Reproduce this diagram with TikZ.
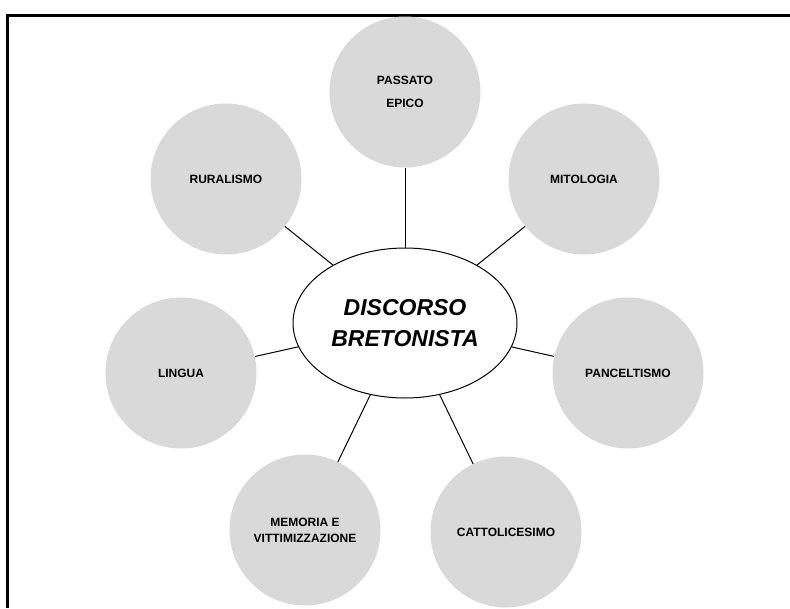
\documentclass[tikz,border=0pt]{standalone}
\usepackage{fontspec}
\setmainfont{Liberation Sans}
\usepackage{tikz}
\usetikzlibrary{shapes.geometric}
\colorlet{grigio}{black!15}

\begin{document}
\begin{tikzpicture}[x=1pt,y=-1pt,
        tema/.style={circle,fill=grigio,minimum size=151pt,inner sep=0pt,align=center,
            font=\fontsize{12}{16}\selectfont\bfseries},
        centrale/.style={ellipse,draw,line width=1pt,minimum width=224pt,minimum height=150pt,
            inner sep=0pt,align=center,font=\fontsize{23}{31}\selectfont\bfseries\itshape}]
            \useasboundingbox (0,0) rectangle (790,608);
            \clip (0,0) rectangle (790,608);
            \draw [line width=3pt] (7.5,608) -- (7.5,15.5) -- (790,15.5);

            \node [centrale] (centro) at (405,323) {DISCORSO\\BRETONISTA};
            \node [tema] (passato) at (405,92) {PASSATO\\[7pt]EPICO};
            \node [tema] (ruralismo) at (226,179) {RURALISMO};
            \node [tema] (mitologia) at (584,179) {MITOLOGIA};
            \node [tema] (lingua) at (181,373) {LINGUA};
            \node [tema] (panceltismo) at (628,373) {PANCELTISMO};
            \node [tema] (memoria) at (305,530) {MEMORIA E\\VITTIMIZZAZIONE};
            \node [tema] (cattolicesimo) at (506,532) {CATTOLICESIMO};

            \foreach \n in {passato,ruralismo,mitologia,lingua,panceltismo,memoria,cattolicesimo} {
                \draw [line width=1pt] (centro) -- (\n);
            }
        \end{tikzpicture}
\end{document}
